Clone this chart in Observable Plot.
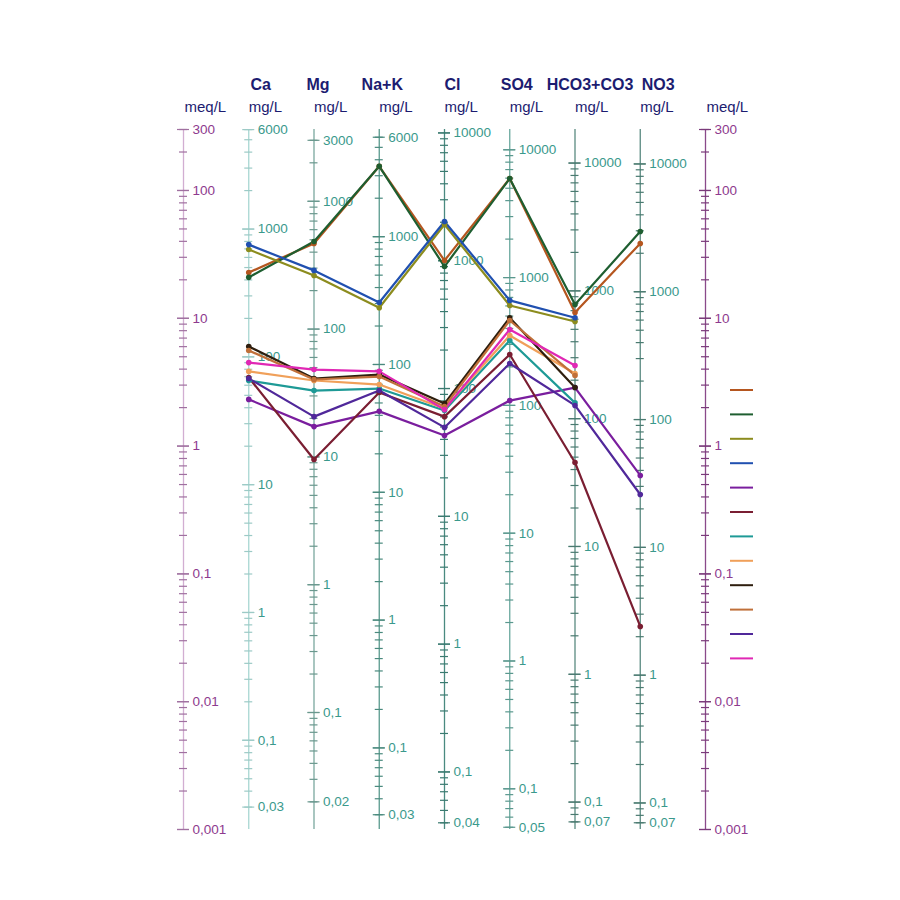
<!DOCTYPE html>
<html><head><meta charset="utf-8">
<script src="https://cdn.jsdelivr.net/npm/d3@7"></script>
<script src="https://cdn.jsdelivr.net/npm/@observablehq/plot@0.6"></script>
<style>body{margin:0;background:#fff;font-family:"Liberation Sans",Arial,sans-serif}</style>
</head><body><div id="chart"></div>
<script>
// ---- data ----
const ions = ["Ca","Mg","Na+K","Cl","SO4","HCO3+CO3","NO3"];
const eqWeights = [20.04,12.15,22.99,35.45,48.03,61.02,62.00]; // mg per meq
const meqTickLabels = [300,100,10,1,0.1,0.01,0.001];
const mgTickLabels = [
  [6000,1000,100,10,1,0.1,0.03],
  [3000,1000,100,10,1,0.1,0.02],
  [6000,1000,100,10,1,0.1,0.03],
  [10000,1000,100,10,1,0.1,0.04],
  [10000,1000,100,10,1,0.1,0.05],
  [10000,1000,100,10,1,0.1,0.07],
  [10000,1000,100,10,1,0.1,0.07]
];
const series = ["1","2","3","4","5","6","7","8","9","10","11","12"];
const seriesColors = ["#b5561f","#1e5e30","#8c8c1e","#2050b0","#7a1e9e","#7a1e32",
                      "#1e9a96","#f0a05a","#2e1e0e","#c0703a","#50289a","#e028b4"];
// values in meq/L, order: Ca, Mg, Na+K, Cl, SO4, HCO3+CO3, NO3
const s1  = [22.8, 38.5, 154.5, 28.3, 124, 11.1, 38.5];
const s2  = [20.9, 39.9, 154.5, 25.4, 124, 12.8, 47.7];
const s3  = [34.5, 21.6, 12.1, 54.2, 12.6, 9.44, null];
const s4  = [37.7, 23.7, 13.3, 57.2, 13.8, 10.1, null];
const s5  = [2.32, 1.42, 1.87, 1.21, 2.27, 2.87, 0.589];
const s6  = [3.44, 0.786, 2.63, 1.70, 5.21, 0.744, 0.0388];
const s7  = [3.26, 2.72, 2.82, 1.90, 6.70, 2.18, null];
const s8  = [3.84, 3.26, 3.03, 1.97, 7.33, 3.70, null];
const s9  = [6.02, 3.38, 3.63, 2.15, 10.1, 2.87, null];
const s10 = [5.60, 3.32, 3.50, 2.04, 9.61, 3.57, null];
const s11 = [3.38, 1.70, 2.72, 1.40, 4.43, 2.08, 0.418];
const s12 = [4.50, 3.97, 3.84, 1.93, 8.16, 4.27, null];
const seriesValues = [s1,s2,s3,s4,s5,s6,s7,s8,s9,s10,s11,s12];

// ---- layout/style ----
const W = 900, H = 900, mL = 183, mR = 195, mT = 129, mB = 71;
const pxPerUnit = (W - mL - mR) / 8;
const headerDx = [12, 4, 3, 8, 7, 15, 18];
const axisColors = ["#d2aed2","#a8d6d2","#7aa89e","#5a9a8e","#4a8a80","#6aa89e","#5a8a80","#5a8a80","#8a4a8a"];
const tickColors = ["#a070a0","#9ccac6","#6a988e","#4a8a7e","#3a7a70","#5a988e","#4a7a70","#4a7a70","#7a3a7a"];
const meqMin = 0.001, meqMax = 300;

const rows = [];
seriesValues.forEach((vals, k) => vals.forEach((v, j) => {
  if (v != null) rows.push({s: series[k], i: j + 1, v});
}));

// ticks per axis: index 0 = left meq, 1..7 ions, 8 = right meq
const ticks = [], labels = [];
function addTicks(ax, eq) {
  const lo = meqMin * eq, hi = meqMax * eq;
  for (let e = -4; e <= 5; e++) for (let k = 1; k <= 9; k++) {
    const mg = k * Math.pow(10, e);
    if (mg >= lo * 0.9999 && mg <= hi * 1.0001) ticks.push({ax, v: mg / eq, major: k === 1});
  }
}
addTicks(0, 1); addTicks(8, 1);
eqWeights.forEach((eq, j) => addTicks(j + 1, eq));
const fmt = v => String(+v.toPrecision(6)).replace(".", ",");
meqTickLabels.forEach(v => { labels.push({ax: 0, v, t: fmt(v)}); labels.push({ax: 8, v, t: fmt(v)}); });
mgTickLabels.forEach((arr, j) => arr.forEach(mg => {
  labels.push({ax: j + 1, v: mg / eqWeights[j], t: fmt(mg)});
  ticks.push({ax: j + 1, v: mg / eqWeights[j], major: true});
}));
meqTickLabels.forEach(v => { ticks.push({ax: 0, v, major: true}); ticks.push({ax: 8, v, major: true}); });

const axesIdx = d3.range(9);
const hl = (d) => (d.major ? 6 : 4) / pxPerUnit;

const plot = Plot.plot({
  width: W, height: H,
  marginLeft: mL, marginRight: mR, marginTop: mT, marginBottom: mB,
  style: {fontFamily: '"Liberation Sans", Arial, sans-serif', background: "#fff"},
  x: {domain: [0, 8], axis: null},
  y: {type: "log", domain: [meqMin, meqMax], axis: null},
  color: {domain: series, range: seriesColors},
  marks: [
    Plot.ruleX(axesIdx, {x: d => d, y1: meqMin, y2: meqMax, stroke: d => axisColors[d], strokeWidth: 1.3}),
    Plot.ruleY(ticks, {y: "v", x1: d => d.ax - hl(d), x2: d => d.ax + hl(d), stroke: d => tickColors[d.ax], strokeWidth: 1.2}),
    Plot.text(labels, {x: "ax", y: "v", text: "t", textAnchor: "start", dx: 9,
      fill: d => (d.ax === 0 || d.ax === 8) ? "#8e3a8e" : "#3a998c", fontSize: 13.5}),
    Plot.text(ions, {x: (d, j) => j + 1 + headerDx[j] / pxPerUnit, frameAnchor: "top", lineAnchor: "middle", dy: -45,
      text: d => d, fill: "#1c1c70", fontWeight: "bold", fontSize: 16}),
    Plot.text(ions, {x: (d, j) => j + 1, frameAnchor: "top", lineAnchor: "middle", dy: -22, text: () => "mg/L",
      textAnchor: "start", fill: "#1c1c70", fontSize: 15}),
    Plot.text([0, 8], {x: d => d, frameAnchor: "top", lineAnchor: "middle", dy: -22, text: () => "meq/L",
      textAnchor: "start", dx: 1, fill: "#1c1c70", fontSize: 15}),
    Plot.line(rows, {x: "i", y: "v", z: "s", stroke: "s", strokeWidth: 2.2}),
    Plot.dot(rows, {x: "i", y: "v", fill: "s", r: 2.8})
  ]
});
document.getElementById("chart").appendChild(plot);

// legend swatches (no labels in the reference)
const svg = d3.select(plot);
series.forEach((s, k) => {
  svg.append("line").attr("x1", 730).attr("x2", 753)
    .attr("y1", 390 + k * 24.4).attr("y2", 390 + k * 24.4)
    .attr("stroke", seriesColors[k]).attr("stroke-width", 2);
});
</script></body></html>
